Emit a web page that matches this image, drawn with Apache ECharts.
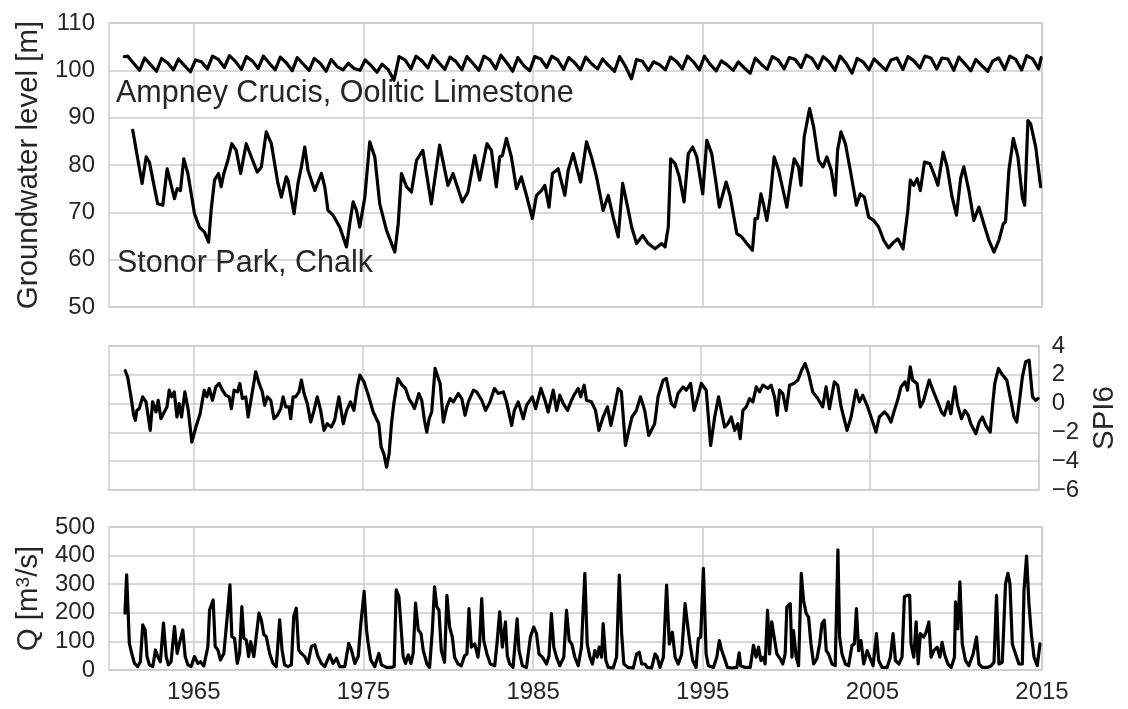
<!DOCTYPE html>
<html><head><meta charset="utf-8">
<script src="https://cdn.jsdelivr.net/npm/echarts@6/dist/echarts.min.js"></script>
<style>html,body{margin:0;padding:0;background:#fff}#c{width:1128px;height:709px}</style>
</head><body><div id="c"></div>
<script>
const xTickYears = [1965, 1975, 1985, 1995, 2005, 2015];
const gwTicks = [50, 110, 10];
const spiTicks = [-6, 4, 2];
const qTicks = [0, 500, 100];

// Ampney Crucis (Oolitic Limestone): winter high, early-summer, autumn low per year
const ampneyYears = [1961,1962,1963,1964,1965,1966,1967,1968,1969,1970,1971,1972,1973,1974,1975,1976,1977,1978,1979,1980,1981,1982,1983,1984,1985,1986,1987,1988,1989,1990,1991,1992,1993,1994,1995,1996,1997,1998,1999,2000,2001,2002,2003,2004,2005,2006,2007,2008,2009,2010,2011,2012,2013,2014];
const ampneyFeb = [103.0,102.6,102.5,102.4,102.2,103.0,103.1,102.9,103.0,102.8, 102.7,102.5,102.3,101.5,102.2,101.3,102.9,103.0,103.1,102.8, 102.9,103.0,103.2,102.7,102.9,103.0,102.7,102.8,102.4,102.9, 102.3,101.8,102.8,103.0,103.0,102.0,101.8,102.6,102.9,102.7, 103.2,102.9,103.0,102.5,102.4,102.2,102.9,103.0,102.6,102.8, 102.3,102.0,103.0,103.1];
const ampneyJun = [101.5,101.2,101.6,101.0,101.8,102.3,101.9,102.0,101.5,101.6, 101.3,101.5,100.8,100.4,101.0,100.2,102.2,102.0,101.6,101.9, 101.5,102.2,101.6,101.0,102.4,102.2,101.6,101.4,101.0,100.8, 101.9,101.2,101.9,101.8,101.2,101.1,100.5,101.3,102.2,102.3, 102.5,101.8,101.5,101.8,101.2,102.6,102.0,102.6,102.4,101.4, 101.0,102.6,102.3,102.4];
const ampneyOct = [100.0,99.8,100.1,99.7,100.3,100.6,100.2,100.4,100.1,99.9, 100.0,99.8,100.1,100.0,99.6,97.9,100.3,100.5,100.2,100.1, 100.0,100.3,99.8,99.9,100.6,100.2,100.1,100.3,99.8,98.2, 100.0,100.1,100.3,100.1,99.9,100.0,99.4,100.2,100.3,100.6, 100.4,100.0,99.4,100.1,100.0,100.2,100.5,100.3,100.0,99.9, 99.8,100.2,100.1,100.3];
const ampneyEnds = [[1960.9, 102.9], [2014.95, 102.7]];

// Stonor Park (Chalk): [year, level m]
const stonor = [[1961.40,87.3],[1961.95,76.1],[1962.19,81.7],[1962.38,80.6],[1962.87,71.8],[1963.17,71.5],[1963.43,79.2],[1963.86,72.9],[1964.02,75.0],[1964.21,74.6],[1964.41,81.3],[1964.65,78.2],[1965.04,69.7],[1965.33,66.9],[1965.63,65.8],[1965.87,63.7],[1966.02,70.4],[1966.22,76.8],[1966.46,78.2],[1966.61,75.4],[1966.77,78.2],[1967.01,81.0],[1967.24,84.5],[1967.50,83.1],[1967.76,78.2],[1968.09,84.5],[1968.39,81.7],[1968.74,78.5],[1968.98,79.6],[1969.27,87.0],[1969.57,84.5],[1969.96,76.1],[1970.16,73.2],[1970.45,77.5],[1970.55,76.8],[1970.91,69.7],[1971.14,76.1],[1971.34,79.6],[1971.54,83.8],[1971.73,78.9],[1972.13,74.6],[1972.52,78.2],[1972.72,75.4],[1972.91,70.4],[1973.21,69.4],[1973.60,66.9],[1974.00,62.7],[1974.19,67.6],[1974.39,72.2],[1974.59,70.4],[1974.78,66.9],[1975.08,73.2],[1975.37,84.9],[1975.67,81.7],[1975.96,71.8],[1976.36,66.2],[1976.85,61.6],[1977.05,67.6],[1977.24,78.2],[1977.54,75.4],[1977.83,74.3],[1978.13,81.0],[1978.50,83.1],[1979.00,71.8],[1979.49,84.2],[1979.98,75.7],[1980.28,78.2],[1980.83,72.2],[1981.16,74.3],[1981.56,82.0],[1981.85,76.8],[1982.28,84.5],[1982.54,83.1],[1982.83,75.4],[1983.03,81.7],[1983.19,82.0],[1983.43,85.6],[1983.72,81.7],[1984.02,75.0],[1984.31,77.5],[1984.61,73.6],[1984.96,68.7],[1985.20,73.6],[1985.49,74.6],[1985.69,75.7],[1985.94,71.1],[1986.14,78.2],[1986.48,79.2],[1986.87,73.6],[1987.07,78.9],[1987.36,82.4],[1987.56,79.6],[1987.80,76.4],[1988.15,84.9],[1988.44,81.7],[1988.74,77.5],[1989.13,70.4],[1989.43,73.6],[1989.72,69.0],[1990.02,64.8],[1990.28,76.1],[1990.51,72.2],[1990.81,66.9],[1991.10,63.4],[1991.46,65.1],[1991.79,63.4],[1992.19,62.3],[1992.58,63.4],[1992.78,62.7],[1992.97,66.9],[1993.11,81.3],[1993.37,80.3],[1993.62,77.5],[1993.90,72.2],[1994.15,82.4],[1994.41,83.8],[1994.65,81.7],[1995.00,73.9],[1995.24,85.2],[1995.53,82.4],[1995.79,76.1],[1995.98,71.1],[1996.38,76.4],[1996.61,73.6],[1997.01,65.5],[1997.30,64.8],[1997.60,63.4],[1997.93,62.0],[1998.09,68.7],[1998.23,68.7],[1998.43,73.9],[1998.58,71.8],[1998.78,68.3],[1998.98,73.2],[1999.21,81.7],[1999.47,78.9],[1999.76,74.3],[1999.96,71.1],[2000.16,76.1],[2000.39,81.3],[2000.65,79.6],[2000.79,75.7],[2000.98,85.9],[2001.30,91.9],[2001.54,88.0],[2001.83,81.0],[2002.09,79.6],[2002.32,81.7],[2002.58,78.9],[2002.81,73.6],[2002.95,83.1],[2003.15,87.0],[2003.41,84.5],[2003.70,78.9],[2004.06,71.5],[2004.29,73.9],[2004.53,73.2],[2004.78,69.0],[2005.08,68.3],[2005.37,66.9],[2005.67,64.1],[2005.96,62.5],[2006.26,63.7],[2006.50,64.4],[2006.81,62.3],[2007.09,70.4],[2007.24,76.8],[2007.44,75.7],[2007.64,77.1],[2007.83,74.6],[2008.07,80.6],[2008.39,80.3],[2008.62,78.2],[2008.86,75.7],[2009.17,82.7],[2009.41,79.6],[2009.70,73.2],[2009.96,69.4],[2010.20,77.1],[2010.39,79.6],[2010.69,74.6],[2010.98,68.3],[2011.28,71.1],[2011.57,67.6],[2011.87,64.1],[2012.17,61.6],[2012.46,64.1],[2012.72,67.6],[2012.85,68.0],[2013.05,78.9],[2013.31,85.6],[2013.58,81.7],[2013.84,73.2],[2013.98,71.5],[2014.17,89.4],[2014.33,88.7],[2014.63,83.8],[2014.92,75.4]];

// SPI6: [year, index]
const spi6 = [[1960.96,2.28],[1961.10,1.86],[1961.30,0.47],[1961.46,-0.81],[1961.56,-1.16],[1961.65,-0.47],[1961.79,-0.35],[1961.99,0.47],[1962.19,0.12],[1962.28,-0.58],[1962.44,-1.86],[1962.58,0.12],[1962.78,-0.58],[1962.91,0.23],[1963.07,-1.05],[1963.27,-0.58],[1963.43,-0.23],[1963.56,0.93],[1963.70,0.47],[1963.86,0.81],[1964.02,-0.93],[1964.15,0.0],[1964.29,-0.93],[1964.49,0.81],[1964.69,-0.47],[1964.90,-2.67],[1965.14,-1.63],[1965.39,-0.70],[1965.63,0.93],[1965.79,0.47],[1965.93,1.05],[1966.12,0.23],[1966.32,1.16],[1966.52,1.40],[1966.71,0.93],[1966.91,0.58],[1967.11,0.47],[1967.24,-0.35],[1967.40,0.93],[1967.60,0.81],[1967.74,1.40],[1967.89,0.35],[1968.09,0.47],[1968.23,-0.93],[1968.43,0.47],[1968.68,2.21],[1968.88,1.40],[1969.07,0.81],[1969.21,-0.12],[1969.37,0.47],[1969.57,0.23],[1969.76,-1.05],[1969.96,-0.81],[1970.16,-0.35],[1970.30,0.47],[1970.45,-0.23],[1970.65,-0.23],[1970.75,-1.05],[1970.89,0.47],[1971.04,0.47],[1971.24,0.81],[1971.38,1.63],[1971.54,0.70],[1971.73,0.0],[1971.93,-1.28],[1972.13,-0.47],[1972.32,0.47],[1972.52,-0.47],[1972.72,-1.86],[1972.91,-1.40],[1973.15,-1.63],[1973.35,-1.16],[1973.60,0.47],[1973.86,-1.40],[1974.06,-0.47],[1974.29,0.12],[1974.49,-0.47],[1974.69,1.16],[1974.84,1.98],[1975.08,1.51],[1975.37,0.47],[1975.63,-0.58],[1975.96,-1.40],[1976.10,-3.02],[1976.26,-3.49],[1976.42,-4.42],[1976.57,-3.49],[1976.71,-1.40],[1976.85,0.0],[1977.09,1.74],[1977.34,1.28],[1977.54,1.05],[1977.74,0.35],[1977.93,0.0],[1978.07,-0.35],[1978.33,0.70],[1978.50,0.23],[1978.66,-1.16],[1978.80,-1.98],[1978.94,-1.05],[1979.09,-0.58],[1979.29,2.44],[1979.45,1.86],[1979.59,1.40],[1979.78,-1.28],[1979.98,-0.23],[1980.18,0.35],[1980.37,0.12],[1980.67,0.70],[1980.87,0.35],[1981.06,-0.81],[1981.26,0.12],[1981.56,0.93],[1981.75,0.81],[1982.05,0.23],[1982.28,-0.47],[1982.54,0.12],[1982.80,1.05],[1983.03,0.70],[1983.33,0.81],[1983.52,0.12],[1983.82,-1.51],[1983.98,-0.47],[1984.21,0.12],[1984.51,-1.05],[1984.70,-0.12],[1985.04,0.47],[1985.24,-0.35],[1985.55,1.05],[1985.79,0.23],[1985.98,-0.58],[1986.28,0.93],[1986.48,-0.47],[1986.67,0.58],[1986.87,0.0],[1987.13,-0.47],[1987.36,0.23],[1987.56,0.70],[1987.76,1.05],[1987.91,0.47],[1988.11,1.28],[1988.25,0.23],[1988.54,0.12],[1988.78,-0.47],[1988.98,-1.86],[1989.23,-0.93],[1989.49,-0.23],[1989.69,-1.51],[1989.88,-0.47],[1990.12,1.05],[1990.31,0.81],[1990.55,-2.91],[1990.75,-1.86],[1990.94,-0.93],[1991.20,-0.47],[1991.44,0.47],[1991.69,-0.47],[1991.93,-2.21],[1992.28,-1.40],[1992.48,0.47],[1992.78,1.63],[1992.97,1.74],[1993.27,0.0],[1993.46,-0.23],[1993.66,0.70],[1993.96,1.16],[1994.15,0.93],[1994.41,1.40],[1994.61,-0.47],[1994.84,0.47],[1995.04,1.40],[1995.33,0.93],[1995.59,-2.91],[1995.83,-0.93],[1996.06,0.47],[1996.42,-1.63],[1996.61,-1.40],[1996.81,-0.93],[1997.01,-1.86],[1997.20,-1.40],[1997.34,-2.44],[1997.50,-0.47],[1997.70,-0.23],[1997.89,0.35],[1998.09,0.12],[1998.29,1.16],[1998.48,0.81],[1998.68,1.28],[1998.98,1.05],[1999.17,1.28],[1999.37,0.47],[1999.53,-0.81],[1999.67,0.93],[1999.86,0.70],[2000.06,-0.47],[2000.26,1.28],[2000.51,1.40],[2000.75,1.63],[2000.98,2.33],[2001.18,2.79],[2001.38,2.09],[2001.63,0.81],[2001.93,0.35],[2002.22,-0.23],[2002.42,1.16],[2002.62,-0.35],[2002.91,1.51],[2003.11,1.28],[2003.31,-0.23],[2003.66,-1.86],[2003.90,-0.93],[2004.19,0.93],[2004.39,0.12],[2004.59,0.58],[2004.88,-0.23],[2005.18,-1.28],[2005.37,-1.98],[2005.57,-0.93],[2005.87,-0.58],[2006.06,-0.81],[2006.26,-1.28],[2006.46,-0.47],[2006.65,0.23],[2006.85,1.16],[2007.09,1.51],[2007.24,0.93],[2007.40,2.56],[2007.54,1.63],[2007.80,1.40],[2007.99,-0.23],[2008.19,0.23],[2008.52,1.63],[2008.78,0.81],[2009.02,0.12],[2009.25,-0.58],[2009.41,-0.81],[2009.65,0.12],[2009.80,-0.70],[2010.04,1.16],[2010.20,-0.12],[2010.43,-1.05],[2010.63,-0.47],[2010.83,-0.81],[2010.98,-1.40],[2011.28,-2.09],[2011.48,-1.28],[2011.67,-0.93],[2011.87,-1.51],[2012.13,-1.98],[2012.26,-0.23],[2012.40,1.40],[2012.62,2.44],[2012.85,2.00],[2013.11,1.63],[2013.31,0.47],[2013.54,-0.93],[2013.70,-1.28],[2013.84,0.0],[2014.04,1.91],[2014.23,2.91],[2014.43,3.02],[2014.63,0.47],[2014.82,0.23],[2014.96,0.35]];

// River flow Q [m3/s]: [year, flow]
const flowQ = [[1960.94,199],[1961.04,333],[1961.14,327],[1961.20,93],[1961.34,58],[1961.50,23],[1961.69,12],[1961.85,29],[1961.99,158],[1962.13,140],[1962.24,47],[1962.38,18],[1962.58,12],[1962.74,70],[1962.87,47],[1963.03,29],[1963.21,164],[1963.37,47],[1963.50,18],[1963.66,29],[1963.86,152],[1964.02,58],[1964.15,93],[1964.35,140],[1964.49,47],[1964.65,18],[1964.84,12],[1965.04,47],[1965.24,23],[1965.39,29],[1965.59,14],[1965.83,82],[1965.93,210],[1966.02,216],[1966.14,245],[1966.26,82],[1966.42,70],[1966.57,35],[1966.77,58],[1966.97,187],[1967.13,298],[1967.24,117],[1967.40,111],[1967.56,23],[1967.70,58],[1967.83,222],[1967.95,111],[1968.09,105],[1968.23,47],[1968.35,99],[1968.54,47],[1968.84,199],[1968.98,175],[1969.13,123],[1969.27,117],[1969.47,58],[1969.67,23],[1969.86,12],[1970.06,175],[1970.20,70],[1970.35,18],[1970.55,12],[1970.75,18],[1970.89,187],[1971.04,216],[1971.18,70],[1971.34,58],[1971.54,47],[1971.73,23],[1971.93,82],[1972.13,88],[1972.32,47],[1972.52,23],[1972.72,12],[1973.01,53],[1973.21,23],[1973.41,41],[1973.60,12],[1973.90,12],[1974.13,93],[1974.29,70],[1974.49,23],[1974.69,47],[1974.84,158],[1975.04,275],[1975.18,140],[1975.28,93],[1975.43,35],[1975.67,12],[1975.91,58],[1976.06,18],[1976.36,9],[1976.65,9],[1976.81,12],[1976.93,280],[1977.09,257],[1977.20,263],[1977.34,47],[1977.48,23],[1977.64,53],[1977.80,23],[1977.93,58],[1978.07,234],[1978.23,140],[1978.39,128],[1978.52,70],[1978.60,68],[1978.74,21],[1978.90,9],[1979.06,138],[1979.19,291],[1979.33,220],[1979.45,209],[1979.59,68],[1979.78,27],[1979.92,261],[1980.08,150],[1980.24,115],[1980.37,45],[1980.57,21],[1980.77,15],[1980.96,50],[1981.10,56],[1981.22,215],[1981.36,80],[1981.56,91],[1981.75,45],[1981.85,97],[1981.97,250],[1982.09,103],[1982.28,56],[1982.48,21],[1982.74,15],[1982.87,91],[1983.03,203],[1983.19,80],[1983.37,168],[1983.48,50],[1983.62,21],[1983.82,9],[1984.06,179],[1984.17,68],[1984.37,15],[1984.61,9],[1984.84,115],[1985.04,150],[1985.20,127],[1985.35,56],[1985.55,45],[1985.79,21],[1985.94,50],[1986.08,197],[1986.22,80],[1986.38,45],[1986.57,15],[1986.81,45],[1986.97,209],[1987.13,103],[1987.28,91],[1987.46,45],[1987.66,15],[1987.85,80],[1988.05,338],[1988.19,91],[1988.35,45],[1988.50,21],[1988.64,68],[1988.78,45],[1988.90,80],[1989.04,45],[1989.13,162],[1989.29,33],[1989.43,9],[1989.72,7],[1989.92,45],[1990.08,332],[1990.22,127],[1990.35,21],[1990.61,9],[1990.91,7],[1991.10,56],[1991.26,62],[1991.40,21],[1991.59,21],[1991.73,9],[1991.99,7],[1992.19,56],[1992.32,45],[1992.48,9],[1992.68,45],[1992.87,297],[1993.03,91],[1993.21,132],[1993.37,45],[1993.56,21],[1993.76,56],[1993.96,232],[1994.11,156],[1994.25,91],[1994.41,33],[1994.61,9],[1994.74,109],[1994.88,115],[1995.04,355],[1995.20,56],[1995.33,15],[1995.63,9],[1995.83,45],[1995.98,103],[1996.12,68],[1996.26,45],[1996.46,9],[1996.71,7],[1997.01,9],[1997.15,60],[1997.24,15],[1997.50,9],[1997.80,9],[1997.99,86],[1998.15,45],[1998.29,80],[1998.43,33],[1998.58,45],[1998.68,21],[1998.82,209],[1998.94,56],[1999.07,168],[1999.21,115],[1999.37,56],[1999.57,39],[1999.72,21],[1999.86,56],[1999.96,220],[2000.06,226],[2000.16,232],[2000.26,45],[2000.35,138],[2000.51,45],[2000.65,15],[2000.81,338],[2000.94,244],[2001.10,197],[2001.24,185],[2001.38,91],[2001.54,21],[2001.73,39],[2001.89,91],[2002.03,162],[2002.17,174],[2002.28,68],[2002.42,56],[2002.62,21],[2002.81,15],[2002.97,420],[2003.07,115],[2003.21,56],[2003.41,21],[2003.60,15],[2003.80,86],[2003.94,91],[2004.06,215],[2004.19,68],[2004.33,103],[2004.49,21],[2004.69,68],[2004.84,45],[2005.04,15],[2005.24,127],[2005.37,33],[2005.57,9],[2005.87,9],[2006.06,45],[2006.22,127],[2006.36,33],[2006.56,21],[2006.75,45],[2006.89,256],[2007.05,261],[2007.20,261],[2007.28,91],[2007.44,45],[2007.58,168],[2007.70,21],[2007.83,127],[2008.03,115],[2008.17,132],[2008.33,168],[2008.46,45],[2008.62,68],[2008.82,80],[2008.98,45],[2009.11,97],[2009.25,56],[2009.45,21],[2009.65,9],[2009.84,45],[2009.90,238],[2010.04,144],[2010.16,308],[2010.30,91],[2010.49,33],[2010.69,15],[2010.94,56],[2011.14,115],[2011.28,21],[2011.48,9],[2011.77,9],[2012.01,15],[2012.17,27],[2012.32,261],[2012.46,21],[2012.66,27],[2012.85,302],[2012.99,338],[2013.11,302],[2013.25,91],[2013.44,56],[2013.64,21],[2013.84,21],[2013.94,279],[2014.09,398],[2014.23,232],[2014.37,127],[2014.53,45],[2014.72,15],[2014.88,91]];

const FONT = '"Liberation Sans", Arial, sans-serif';
const TXT = '#262626';
const GRIDC = '#cccccc';

const ampney = [ampneyEnds[0]];
ampneyYears.forEach((y, i) => {
  ampney.push([y + 0.1, ampneyFeb[i]]);
  ampney.push([y + 0.45, ampneyJun[i]]);
  ampney.push([y + 0.8, ampneyOct[i]]);
});
ampney.push(ampneyEnds[1]);

const chart = echarts.init(document.getElementById('c'), null, {renderer: 'canvas'});

function xAxisFor(i) {
  return {
    gridIndex: i, type: 'value', min: 1960, max: 2015,
    axisLine: {show: false},
    axisTick: {show: false, customValues: xTickYears},
    axisLabel: {show: i === 2, customValues: xTickYears, fontSize: 24, color: TXT, fontFamily: FONT, margin: 10,
      formatter: v => String(v)},
    splitLine: {show: true, lineStyle: {color: GRIDC, width: 1.5}}
  };
}
const lineBase = {type: 'line', showSymbol: false, symbol: 'none', animation: false,
  lineStyle: {color: '#000', width: 3.2, join: 'round', cap: 'round'}, itemStyle: {color: '#000'}, z: 3};

chart.setOption({
  animation: false,
  backgroundColor: '#fff',
  grid: [
    {left: 109, right: 86, top: 23, height: 284, show: true, borderColor: GRIDC, borderWidth: 1.5, backgroundColor: '#fff'},
    {left: 109, right: 86, top: 346, height: 144, show: true, borderColor: GRIDC, borderWidth: 1.5, backgroundColor: '#fff'},
    {left: 109, right: 86, top: 527, height: 143, show: true, borderColor: GRIDC, borderWidth: 1.5, backgroundColor: '#fff'}
  ],
  xAxis: [xAxisFor(0), xAxisFor(1), xAxisFor(2)],
  yAxis: [
    {gridIndex: 0, type: 'value', min: gwTicks[0], max: gwTicks[1], interval: gwTicks[2],
     axisLine: {show: false}, axisTick: {show: false},
     axisLabel: {fontSize: 24, color: TXT, fontFamily: FONT, margin: 14},
     splitLine: {lineStyle: {color: GRIDC, width: 1.5}},
     name: 'Groundwater level [m]', nameLocation: 'middle', nameGap: 57,
     nameTextStyle: {fontSize: 29.5, color: TXT, fontFamily: FONT}},
    {gridIndex: 1, type: 'value', position: 'right', min: spiTicks[0], max: spiTicks[1], interval: spiTicks[2],
     axisLine: {show: false}, axisTick: {show: false},
     axisLabel: {fontSize: 24, color: TXT, fontFamily: FONT, margin: 13,
       formatter: v => (v < 0 ? '\u2212' + Math.abs(v) : String(v))},
     splitLine: {lineStyle: {color: GRIDC, width: 1.5}},
     name: 'SPI6', nameLocation: 'middle', nameGap: 49, nameRotate: 90,
     nameTextStyle: {fontSize: 29.5, color: TXT, fontFamily: FONT}},
    {gridIndex: 2, type: 'value', min: qTicks[0], max: qTicks[1], interval: qTicks[2],
     axisLine: {show: false}, axisTick: {show: false},
     axisLabel: {fontSize: 24, color: TXT, fontFamily: FONT, margin: 14},
     splitLine: {lineStyle: {color: GRIDC, width: 1.5}},
     name: 'Q [m{sup|3}/s]', nameLocation: 'middle', nameGap: 57,
     nameTextStyle: {fontSize: 29.5, color: TXT, fontFamily: FONT,
       rich: {sup: {fontSize: 19, color: TXT, fontFamily: FONT, verticalAlign: 'top', lineHeight: 30}}}}
  ],
  series: [
    Object.assign({}, lineBase, {name: 'Ampney Crucis', xAxisIndex: 0, yAxisIndex: 0, data: ampney}),
    Object.assign({}, lineBase, {name: 'Stonor Park', xAxisIndex: 0, yAxisIndex: 0, data: stonor}),
    Object.assign({}, lineBase, {name: 'SPI6', xAxisIndex: 1, yAxisIndex: 1, data: spi6}),
    Object.assign({}, lineBase, {name: 'Q', xAxisIndex: 2, yAxisIndex: 2, data: flowQ})
  ],
  graphic: [
    {type: 'text', x: 116, y: 94, z: 10,
     style: {text: 'Ampney Crucis, Oolitic Limestone', font: '30.5px ' + FONT, fill: TXT, verticalAlign: 'middle'}},
    {type: 'text', x: 117, y: 264, z: 10,
     style: {text: 'Stonor Park, Chalk', font: '30.5px ' + FONT, fill: TXT, verticalAlign: 'middle'}}
  ]
});
</script>
</body></html>
